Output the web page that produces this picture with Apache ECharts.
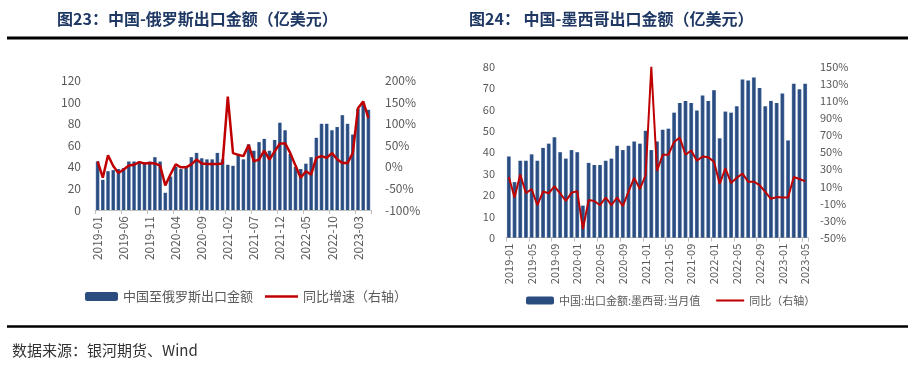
<!DOCTYPE html>
<html>
<head>
<meta charset="utf-8">
<script src="https://cdn.jsdelivr.net/npm/echarts@6/dist/echarts.min.js"></script>
<style>
html,body{margin:0;padding:0;background:#fff;}
#main{width:908px;height:366px;}
</style>
</head>
<body>
<div id="main"></div>
<script>
const categories = ['2019-01','2019-02','2019-03','2019-04','2019-05','2019-06','2019-07','2019-08','2019-09','2019-10','2019-11','2019-12',
'2020-01','2020-02','2020-03','2020-04','2020-05','2020-06','2020-07','2020-08','2020-09','2020-10','2020-11','2020-12',
'2021-01','2021-02','2021-03','2021-04','2021-05','2021-06','2021-07','2021-08','2021-09','2021-10','2021-11','2021-12',
'2022-01','2022-02','2022-03','2022-04','2022-05','2022-06','2022-07','2022-08','2022-09','2022-10','2022-11','2022-12',
'2023-01','2023-02','2023-03','2023-04','2023-05'];

const russiaExport = [45,28,36,37,38,39,45,45,45,44,45,49,45,16,31,40,38,39,49,53,48,47,47,53,47,42,41,51,47,61,55,63,66,55,65,81,74,52,40,38,43,49,67,80,80,74,77,88,80,70,94,98,93];
const russiaYoY = [13,-25,27,2,-14,-6,3,5,11,8,9,8,3,-43,-17,6,-1,-1,6,17,8,7,7,7,8,163,32,28,25,51,13,17,38,17,36,54,55,32,3,-25,-10,-18,21,25,21,32,18,9,9,32,136,152,113];

const mexicoExport = [38,26,36,36,39,36,42,44,47,40,37,41,40,15,35,34,34,36,37,43,41,43,45,44,50,41,45,50.5,51,58.5,63,64,63,59.5,66.5,64,69,46.5,59,58.5,61.5,74,73.5,75,70,61.5,64,63,67.5,45.5,72,69.5,72];
const mexicoYoY = [21,-3,24,2,7,-12,4,2,10,2,-7,2.5,4.5,-40,-6,-7,-12,-3,-12,-3,-13,4,20,7,23,150,28,47,47,62,67,47,52,40,45,44,39,13,31,14,20,25,15.5,15.5,11.6,3.7,-4.5,-2.5,-3,-3,21,18.6,16];

const titleLeft = '图23：中国-俄罗斯出口金额（亿美元）';
const titleRight = '图24： 中国-墨西哥出口金额（亿美元）';
const sourceText = '数据来源：银河期货、Wind';
const nameRuBar = '中国至俄罗斯出口金额';
const nameRuLine = '同比增速（右轴）';
const nameMxBar = '中国:出口金额:墨西哥:当月值';
const nameMxLine = '同比（右轴）';

const FONT = '"Noto Sans CJK SC", "Noto Sans", sans-serif';
const GREY = '#595959';
const NAVY = '#2a4c7f';
const RED = '#c00000';
const barColor = new echarts.graphic.LinearGradient(0, 0, 1, 0, [
  {offset: 0, color: '#5b7cad'},
  {offset: 0.3, color: NAVY},
  {offset: 0.7, color: NAVY},
  {offset: 1, color: '#5b7cad'}
]);
const lineIcon = 'path://M0,0 L30,0 L30,2.2 L0,2.2 Z';

const chart = echarts.init(document.getElementById('main'), null, {renderer: 'canvas'});

function xAxisCfg(gridIndex, interval, fs) {
  return {
    type: 'category', gridIndex: gridIndex, data: categories, boundaryGap: true,
    axisLine: {show: true, lineStyle: {color: '#bfbfbf', width: 1}},
    axisTick: {show: true, interval: interval, length: 4, lineStyle: {color: '#bfbfbf'}},
    axisLabel: {interval: interval, rotate: 90, fontSize: fs, color: GREY, fontFamily: FONT, margin: 6}
  };
}
function yAxisCfg(gridIndex, min, max, interval, fmt, fs, margin) {
  return {
    type: 'value', gridIndex: gridIndex, min: min, max: max, interval: interval,
    axisLine: {show: false}, axisTick: {show: false}, splitLine: {show: false},
    axisLabel: {fontSize: fs, color: GREY, fontFamily: FONT, margin: margin, formatter: fmt}
  };
}

const option = {
  animation: false,
  backgroundColor: '#fff',
  title: [
    {text: titleLeft, left: 52, top: 6, textStyle: {fontFamily: FONT, fontWeight: 'bold', fontSize: 16, color: '#1f3864'}},
    {text: titleRight, left: 464, top: 6, textStyle: {fontFamily: FONT, fontWeight: 'bold', fontSize: 16, color: '#1f3864'}}
  ],
  grid: [
    {left: 95, right: 908 - 371, top: 80.7, bottom: 366 - 210},
    {left: 506, right: 908 - 808, top: 66.7, bottom: 366 - 237.7}
  ],
  legend: [
    {data: [{name: nameRuBar, itemStyle: {color: NAVY}}, {name: nameRuLine, icon: lineIcon}],
     left: 80, top: 285, itemWidth: 33, itemHeight: 9, itemGap: 12,
     textStyle: {fontSize: 13, color: GREY, fontFamily: FONT}},
    {data: [{name: nameMxBar, itemStyle: {color: NAVY}}, {name: nameMxLine, icon: lineIcon}],
     left: 521, top: 290, itemWidth: 28, itemHeight: 8, itemGap: 16,
     textStyle: {fontSize: 11, color: GREY, fontFamily: FONT}}
  ],
  xAxis: [xAxisCfg(0, 4, 12), xAxisCfg(1, 3, 11)],
  yAxis: [
    yAxisCfg(0, 0, 120, 20, '{value}', 12, 14),
    Object.assign(yAxisCfg(0, -100, 200, 50, '{value}%', 12, 14), {position: 'right'}),
    yAxisCfg(1, 0, 80, 10, '{value}', 11, 11),
    Object.assign(yAxisCfg(1, -50, 150, 20, '{value}%', 11, 12), {position: 'right'})
  ],
  series: [
    {name: nameRuBar, type: 'bar', xAxisIndex: 0, yAxisIndex: 0, data: russiaExport, barWidth: '70%',
     itemStyle: {color: barColor}},
    {name: nameRuLine, type: 'line', xAxisIndex: 0, yAxisIndex: 1, data: russiaYoY, symbol: 'none',
     lineStyle: {color: RED, width: 2.5}, itemStyle: {color: RED}},
    {name: nameMxBar, type: 'bar', xAxisIndex: 1, yAxisIndex: 2, data: mexicoExport, barWidth: '68%',
     itemStyle: {color: barColor}},
    {name: nameMxLine, type: 'line', xAxisIndex: 1, yAxisIndex: 3, data: mexicoYoY, symbol: 'none',
     lineStyle: {color: RED, width: 2}, itemStyle: {color: RED}}
  ],
  graphic: [
    {type: 'line', shape: {x1: 7, y1: 38, x2: 908, y2: 38}, style: {stroke: '#000', lineWidth: 3}},
    {type: 'line', shape: {x1: 7, y1: 326.5, x2: 908, y2: 326.5}, style: {stroke: '#000', lineWidth: 2.5}},
    {type: 'text', left: 12, top: 343, style: {text: sourceText, font: '15px ' + FONT, fill: '#333'}}
  ]
};
chart.setOption(option);
</script>
</body>
</html>
